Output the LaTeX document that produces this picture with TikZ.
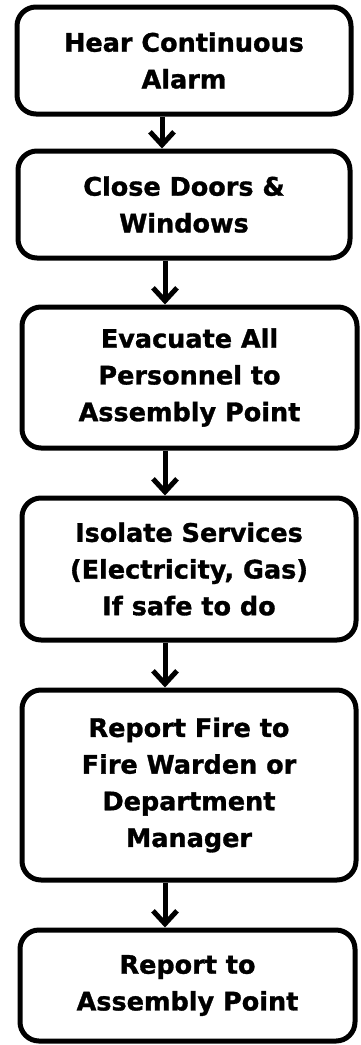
\documentclass[tikz,border=0pt]{standalone}
\usepackage{fontspec}
\setmainfont{DejaVu Sans}[BoldFeatures={FakeBold=1.2}]
\usetikzlibrary{arrows.meta}
\begin{document}
\begin{tikzpicture}[x=1pt,y=1pt,
  stepbox/.style={draw=black, line width=5pt, rounded corners=19pt, fill=white,
    align=center, inner sep=0pt, font=\fontsize{25.5}{36.7}\selectfont\bfseries},
  flow/.style={line width=5pt, -{Straight Barb[length=13pt,width=24pt,line width=5pt]}}]
\useasboundingbox (0,0) rectangle (361,-1045);
\node[stepbox, minimum width=334pt, minimum height=107pt] (n1) at (184,-60.5) {Hear Continuous\\Alarm};
\node[stepbox, minimum width=332pt, minimum height=107pt] (n2) at (184,-204.5) {Close Doors \&\\Windows};
\node[stepbox, minimum width=335pt, minimum height=141pt] (n3) at (189.5,-377.5) {Evacuate All\\Personnel to\\Assembly Point};
\node[stepbox, minimum width=334pt, minimum height=142pt] (n4) at (189,-569) {Isolate Services\\(Electricity, Gas)\\If safe to do};
\node[stepbox, minimum width=334pt, minimum height=190pt] (n5) at (189,-785) {Report Fire to\\Fire Warden or\\Department\\Manager};
\node[stepbox, minimum width=335pt, minimum height=111pt] (n6) at (187.5,-985.5) {Report to\\Assembly Point};
\coordinate (a1) at (162,0);
\coordinate (a2) at (165,0);
\draw[flow] (n1.south -| a1) -- (n2.north -| a1);
\draw[flow] (n2.south -| a2) -- (n3.north -| a2);
\draw[flow] (n3.south -| a2) -- (n4.north -| a2);
\draw[flow] (n4.south -| a2) -- (n5.north -| a2);
\draw[flow] (n5.south -| a2) -- (n6.north -| a2);
\end{tikzpicture}
\end{document}
